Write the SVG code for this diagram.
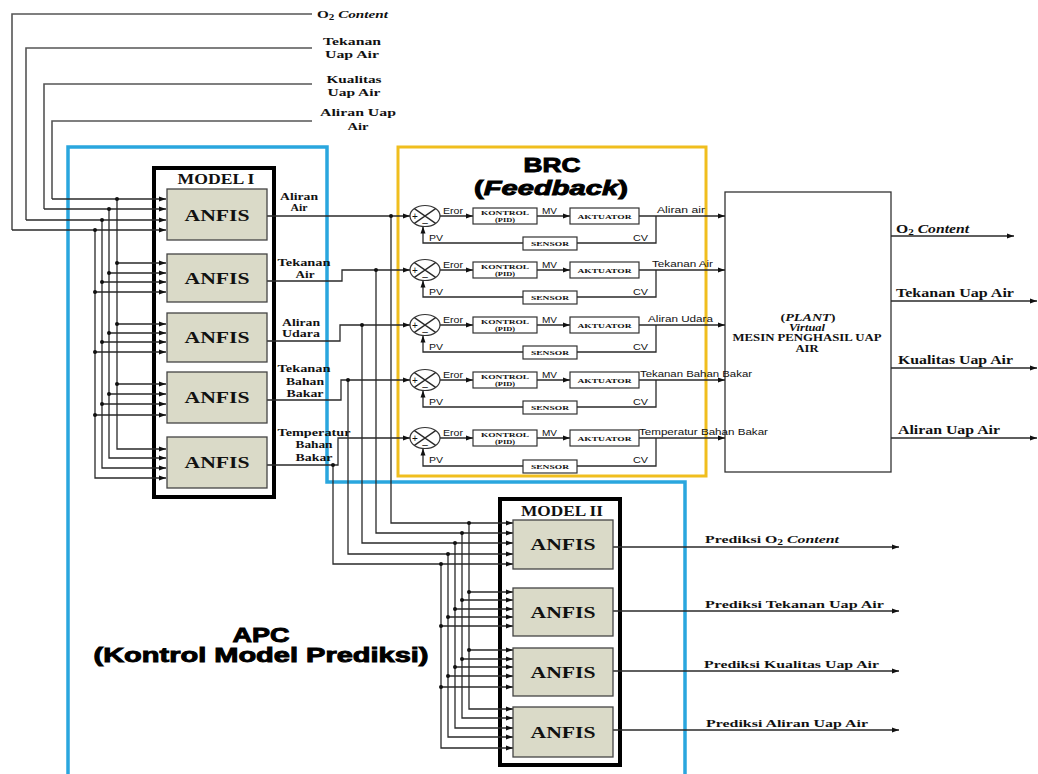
<svg xmlns="http://www.w3.org/2000/svg" width="1038" height="774" viewBox="0 0 1038 774">
<style>
.w{fill:none;stroke:#2a2a2a;stroke-width:1.3}
.wa{fill:none;stroke:#2a2a2a;stroke-width:1.3;marker-end:url(#ah)}
.g{fill:none;stroke:#555;stroke-width:1.6}
.anf{fill:#dadac8;stroke:#444;stroke-width:1.3}
.bx{fill:#fff;stroke:#333;stroke-width:1.2}
.frame{fill:#fff;stroke:#000;stroke-width:4}
.sb{font-family:"Liberation Serif",serif;font-weight:bold;fill:#111}
.ss{font-family:"Liberation Sans",sans-serif;fill:#111}
.big{font-family:"Liberation Sans",sans-serif;font-weight:bold;fill:#000;stroke:#000;stroke-width:0.9;font-size:20px}
.an{font-size:17px}
.lb{font-size:11px}
.sm{font-size:9.5px}
.tn{font-size:6.5px}
.dot{fill:#111}
</style>
<defs>
<marker id="ah" markerWidth="8" markerHeight="6" refX="7" refY="3" orient="auto" markerUnits="userSpaceOnUse"><path d="M0,0.5 L7,3 L0,5.5 z" fill="#111"/></marker>
</defs>
<rect width="1038" height="774" fill="#fff"/>

<g id="apc">
<path d="M68,774 V147 H327 V482 H685 V774" fill="none" stroke="#2aa6de" stroke-width="3.5"/>
<text class="big" x="261" y="642" text-anchor="middle" textLength="57" lengthAdjust="spacingAndGlyphs">APC</text>
<text class="big" x="261" y="662" text-anchor="middle" textLength="335" lengthAdjust="spacingAndGlyphs">(Kontrol Model Prediksi)</text>
</g>
<g id="brc">
<rect x="398" y="147" width="308" height="329" fill="none" stroke="#f0be1e" stroke-width="3"/>
<text class="big" x="552" y="172" text-anchor="middle" textLength="57" lengthAdjust="spacingAndGlyphs">BRC</text>
<text class="big" x="551" y="195" text-anchor="middle" textLength="154" lengthAdjust="spacingAndGlyphs">(<tspan font-style="italic">Feedback</tspan>)</text>
</g>

<g id="model1-frame"><rect class="frame" x="154" y="168" width="120" height="329"/>
<text class="sb" x="216" y="184" font-size="14" text-anchor="middle" textLength="77" lengthAdjust="spacingAndGlyphs">MODEL I</text></g>
<g id="model2-frame"><rect class="frame" x="500" y="499" width="120" height="266"/>
<text class="sb" x="562" y="516" font-size="14" text-anchor="middle" textLength="82" lengthAdjust="spacingAndGlyphs">MODEL II</text></g>

<g id="plant">
<rect x="725" y="192" width="166" height="280" fill="#fff" stroke="#333" stroke-width="1.3"/>
<text class="sb" font-size="10" x="808" y="321" text-anchor="middle" textLength="55" lengthAdjust="spacingAndGlyphs">(<tspan font-style="italic">PLANT</tspan>)</text>
<text class="sb" font-size="10" x="807" y="331" text-anchor="middle" font-style="italic" textLength="36" lengthAdjust="spacingAndGlyphs">Virtual</text>
<text class="sb" font-size="10" x="807" y="341" text-anchor="middle" textLength="149" lengthAdjust="spacingAndGlyphs">MESIN PENGHASIL UAP</text>
<text class="sb" font-size="10" x="807" y="352" text-anchor="middle" textLength="23" lengthAdjust="spacingAndGlyphs">AIR</text>
</g>

<g id="connectors">
<path class="g" d="M312,14 H12 V230"/>
<path class="wa" d="M12,230 H166"/>
<path class="g" d="M312,48 H26 V220"/>
<path class="wa" d="M26,220 H166"/>
<path class="g" d="M312,84 H44 V209"/>
<path class="wa" d="M44,209 H166"/>
<path class="g" d="M312,121 H52 V199"/>
<path class="wa" d="M52,199 H166"/>
<path class="wa" d="M117,199 V449 H166"/>
<path class="wa" d="M109,209 V458 H166"/>
<path class="wa" d="M102,220 V468 H166"/>
<path class="wa" d="M95,230 V478 H166"/>
<path class="wa" d="M117,263 H166"/><path class="wa" d="M109,273 H166"/><path class="wa" d="M102,282 H166"/><path class="wa" d="M95,292 H166"/>
<path class="wa" d="M117,324 H166"/><path class="wa" d="M109,333 H166"/><path class="wa" d="M102,342 H166"/><path class="wa" d="M95,352 H166"/>
<path class="wa" d="M117,384 H166"/><path class="wa" d="M109,394 H166"/><path class="wa" d="M102,404 H166"/><path class="wa" d="M95,415 H166"/>
<g class="dot">
<circle cx="117" cy="199" r="2"/><circle cx="109" cy="209" r="2"/><circle cx="102" cy="220" r="2"/><circle cx="95" cy="230" r="2"/>
<circle cx="117" cy="263" r="2"/><circle cx="109" cy="273" r="2"/><circle cx="102" cy="282" r="2"/><circle cx="95" cy="292" r="2"/>
<circle cx="117" cy="324" r="2"/><circle cx="109" cy="333" r="2"/><circle cx="102" cy="342" r="2"/><circle cx="95" cy="352" r="2"/>
<circle cx="117" cy="384" r="2"/><circle cx="109" cy="394" r="2"/><circle cx="102" cy="404" r="2"/><circle cx="95" cy="415" r="2"/>
</g>
<path class="wa" d="M267,216 H410"/>
<path class="wa" d="M267,281 H342 V270 H410"/>
<path class="wa" d="M267,341 H340 V325 H410"/>
<path class="wa" d="M267,400 H341 V380 H410"/>
<path class="wa" d="M267,465 H338 V438 H410"/>
<path class="wa" d="M391,216 V523 H513"/>
<path class="wa" d="M376,270 V533 H513"/>
<path class="wa" d="M362,325 V543 H513"/>
<path class="wa" d="M348,380 V554 H513"/>
<path class="wa" d="M333,465 V564 H513"/>
<g class="dot">
<circle cx="391" cy="216" r="2"/><circle cx="376" cy="270" r="2"/><circle cx="362" cy="325" r="2"/><circle cx="348" cy="380" r="2"/><circle cx="333" cy="465" r="2"/>
</g>
<path class="wa" d="M469,523 V709 H513"/>
<path class="wa" d="M462,533 V718 H513"/>
<path class="wa" d="M455,543 V728 H513"/>
<path class="wa" d="M448,554 V737 H513"/>
<path class="wa" d="M441,564 V748 H513"/>
<path class="wa" d="M469,592 H513"/><path class="wa" d="M462,600 H513"/><path class="wa" d="M455,609 H513"/><path class="wa" d="M448,617 H513"/><path class="wa" d="M441,626 H513"/>
<path class="wa" d="M469,650 H513"/><path class="wa" d="M462,659 H513"/><path class="wa" d="M455,667 H513"/><path class="wa" d="M448,676 H513"/><path class="wa" d="M441,687 H513"/>
<g class="dot">
<circle cx="469" cy="523" r="2"/><circle cx="462" cy="533" r="2"/><circle cx="455" cy="543" r="2"/><circle cx="448" cy="554" r="2"/><circle cx="441" cy="564" r="2"/>
<circle cx="469" cy="592" r="2"/><circle cx="462" cy="600" r="2"/><circle cx="455" cy="609" r="2"/><circle cx="448" cy="617" r="2"/><circle cx="441" cy="626" r="2"/>
<circle cx="469" cy="650" r="2"/><circle cx="462" cy="659" r="2"/><circle cx="455" cy="667" r="2"/><circle cx="448" cy="676" r="2"/><circle cx="441" cy="687" r="2"/>
</g>
<path class="wa" d="M613,547 H899"/>
<path class="wa" d="M613,611 H899"/>
<path class="wa" d="M613,671 H899"/>
<path class="wa" d="M613,730 H899"/>
<path class="wa" d="M891,236 H1014"/>
<path class="wa" d="M891,301 H1037"/>
<path class="wa" d="M891,368 H1037"/>
<path class="wa" d="M891,438 H1037"/>
<path class="wa" d="M440,216 H473"/><path class="wa" d="M537,216 H570"/><path class="wa" d="M639,216 H725"/><path class="w" d="M656,216 V243 H577"/><path class="wa" d="M523,243 H423 V226.5"/>
<path class="wa" d="M440,270 H473"/><path class="wa" d="M537,270 H570"/><path class="wa" d="M639,270 H725"/><path class="w" d="M656,270 V297 H577"/><path class="wa" d="M523,297 H423 V280.5"/>
<path class="wa" d="M440,325 H473"/><path class="wa" d="M537,325 H570"/><path class="wa" d="M639,325 H725"/><path class="w" d="M656,325 V352 H577"/><path class="wa" d="M523,352 H423 V335.5"/>
<path class="wa" d="M440,380 H473"/><path class="wa" d="M537,380 H570"/><path class="wa" d="M639,380 H725"/><path class="w" d="M656,380 V407 H577"/><path class="wa" d="M523,407 H423 V390.5"/>
<path class="wa" d="M440,438 H473"/><path class="wa" d="M537,438 H570"/><path class="wa" d="M639,438 H725"/><path class="w" d="M656,438 V466 H577"/><path class="wa" d="M523,466 H423 V448.5"/>
</g>

<g id="top-labels">
<text class="sb lb" x="317" y="18" textLength="71" lengthAdjust="spacingAndGlyphs">O<tspan font-size="8" dy="2">2</tspan><tspan dy="-2" font-style="italic"> Content</tspan></text>
<text class="sb lb" x="352" y="45" text-anchor="middle" textLength="58" lengthAdjust="spacingAndGlyphs">Tekanan</text>
<text class="sb lb" x="352" y="58" text-anchor="middle" textLength="54" lengthAdjust="spacingAndGlyphs">Uap Air</text>
<text class="sb lb" x="354" y="83" text-anchor="middle" textLength="55" lengthAdjust="spacingAndGlyphs">Kualitas</text>
<text class="sb lb" x="354" y="96" text-anchor="middle" textLength="53" lengthAdjust="spacingAndGlyphs">Uap Air</text>
<text class="sb lb" x="358" y="116" text-anchor="middle" textLength="76" lengthAdjust="spacingAndGlyphs">Aliran Uap</text>
<text class="sb lb" x="358" y="130" text-anchor="middle" textLength="21" lengthAdjust="spacingAndGlyphs">Air</text>
</g>

<g id="model1">
<g id="m1-anfis1"><rect class="anf" x="167" y="189" width="100" height="51"/><text class="sb an" x="217" y="221" text-anchor="middle" textLength="65" lengthAdjust="spacingAndGlyphs">ANFIS</text></g>
<g id="m1-anfis2"><rect class="anf" x="167" y="254" width="100" height="48"/><text class="sb an" x="217" y="284" text-anchor="middle" textLength="65" lengthAdjust="spacingAndGlyphs">ANFIS</text></g>
<g id="m1-anfis3"><rect class="anf" x="167" y="313" width="100" height="49"/><text class="sb an" x="217" y="343" text-anchor="middle" textLength="65" lengthAdjust="spacingAndGlyphs">ANFIS</text></g>
<g id="m1-anfis4"><rect class="anf" x="167" y="372" width="100" height="51"/><text class="sb an" x="217" y="403" text-anchor="middle" textLength="65" lengthAdjust="spacingAndGlyphs">ANFIS</text></g>
<g id="m1-anfis5"><rect class="anf" x="167" y="437" width="100" height="51"/><text class="sb an" x="217" y="468" text-anchor="middle" textLength="65" lengthAdjust="spacingAndGlyphs">ANFIS</text></g>
</g>
<g id="m1-labels">
<text class="sb lb" x="299" y="200" text-anchor="middle" textLength="38" lengthAdjust="spacingAndGlyphs">Aliran</text>
<text class="sb lb" x="299" y="211" text-anchor="middle" textLength="17" lengthAdjust="spacingAndGlyphs">Air</text>
<text class="sb lb" x="304" y="266" text-anchor="middle" textLength="53" lengthAdjust="spacingAndGlyphs">Tekanan</text>
<text class="sb lb" x="305" y="278" text-anchor="middle" textLength="19" lengthAdjust="spacingAndGlyphs">Air</text>
<text class="sb lb" x="301" y="326" text-anchor="middle" textLength="38" lengthAdjust="spacingAndGlyphs">Aliran</text>
<text class="sb lb" x="301" y="337" text-anchor="middle" textLength="38" lengthAdjust="spacingAndGlyphs">Udara</text>
<text class="sb lb" x="304" y="372" text-anchor="middle" textLength="53" lengthAdjust="spacingAndGlyphs">Tekanan</text>
<text class="sb lb" x="305" y="385" text-anchor="middle" textLength="38" lengthAdjust="spacingAndGlyphs">Bahan</text>
<text class="sb lb" x="305" y="397" text-anchor="middle" textLength="37" lengthAdjust="spacingAndGlyphs">Bakar</text>
<text class="sb lb" x="314" y="436" text-anchor="middle" textLength="73" lengthAdjust="spacingAndGlyphs">Temperatur</text>
<text class="sb lb" x="314" y="448" text-anchor="middle" textLength="37" lengthAdjust="spacingAndGlyphs">Bahan</text>
<text class="sb lb" x="314" y="461" text-anchor="middle" textLength="37" lengthAdjust="spacingAndGlyphs">Bakar</text>
</g>

<g id="brc-loop1">
<ellipse class="bx" cx="425" cy="216" rx="15" ry="10.5"/><path class="w" d="M414.4,208.6 L435.6,223.4 M414.4,223.4 L435.6,208.6"/>
<text class="ss" x="415" y="219.5" font-size="10" text-anchor="middle">+</text><text class="ss" x="425" y="226" font-size="10" text-anchor="middle">–</text>
<rect class="bx" x="473" y="208" width="64" height="16"/><text class="sb tn" x="505" y="214.5" text-anchor="middle" textLength="48" lengthAdjust="spacingAndGlyphs">KONTROL</text><text class="sb tn" x="505" y="222" text-anchor="middle" textLength="20" lengthAdjust="spacingAndGlyphs">(PID)</text>
<rect class="bx" x="570" y="208" width="69" height="16"/><text class="sb" font-size="7" x="604.5" y="218.5" text-anchor="middle" textLength="54" lengthAdjust="spacingAndGlyphs">AKTUATOR</text>
<rect class="bx" x="523" y="237" width="54" height="13"/><text class="sb tn" x="550" y="246" text-anchor="middle" textLength="38" lengthAdjust="spacingAndGlyphs">SENSOR</text>
<text class="ss sm" x="443" y="214" textLength="20" lengthAdjust="spacingAndGlyphs">Eror</text><text class="ss sm" x="542" y="214" textLength="15" lengthAdjust="spacingAndGlyphs">MV</text>
<text class="ss sm" x="429" y="240.5" textLength="14" lengthAdjust="spacingAndGlyphs">PV</text><text class="ss sm" x="633" y="240.5" textLength="15" lengthAdjust="spacingAndGlyphs">CV</text>
<text class="ss sm" x="657" y="213" textLength="48" lengthAdjust="spacingAndGlyphs">Aliran air</text>
</g>
<g id="brc-loop2">
<ellipse class="bx" cx="425" cy="270" rx="15" ry="10.5"/><path class="w" d="M414.4,262.6 L435.6,277.4 M414.4,277.4 L435.6,262.6"/>
<text class="ss" x="415" y="273.5" font-size="10" text-anchor="middle">+</text><text class="ss" x="425" y="280" font-size="10" text-anchor="middle">–</text>
<rect class="bx" x="473" y="262" width="64" height="16"/><text class="sb tn" x="505" y="268.5" text-anchor="middle" textLength="48" lengthAdjust="spacingAndGlyphs">KONTROL</text><text class="sb tn" x="505" y="276" text-anchor="middle" textLength="20" lengthAdjust="spacingAndGlyphs">(PID)</text>
<rect class="bx" x="570" y="262" width="69" height="16"/><text class="sb" font-size="7" x="604.5" y="272.5" text-anchor="middle" textLength="54" lengthAdjust="spacingAndGlyphs">AKTUATOR</text>
<rect class="bx" x="523" y="291" width="54" height="13"/><text class="sb tn" x="550" y="300" text-anchor="middle" textLength="38" lengthAdjust="spacingAndGlyphs">SENSOR</text>
<text class="ss sm" x="443" y="268" textLength="20" lengthAdjust="spacingAndGlyphs">Eror</text><text class="ss sm" x="542" y="268" textLength="15" lengthAdjust="spacingAndGlyphs">MV</text>
<text class="ss sm" x="429" y="294.5" textLength="14" lengthAdjust="spacingAndGlyphs">PV</text><text class="ss sm" x="633" y="294.5" textLength="15" lengthAdjust="spacingAndGlyphs">CV</text>
<text class="ss sm" x="652" y="267" textLength="61" lengthAdjust="spacingAndGlyphs">Tekanan Air</text>
</g>
<g id="brc-loop3">
<ellipse class="bx" cx="425" cy="325" rx="15" ry="10.5"/><path class="w" d="M414.4,317.6 L435.6,332.4 M414.4,332.4 L435.6,317.6"/>
<text class="ss" x="415" y="328.5" font-size="10" text-anchor="middle">+</text><text class="ss" x="425" y="335" font-size="10" text-anchor="middle">–</text>
<rect class="bx" x="473" y="317" width="64" height="16"/><text class="sb tn" x="505" y="323.5" text-anchor="middle" textLength="48" lengthAdjust="spacingAndGlyphs">KONTROL</text><text class="sb tn" x="505" y="331" text-anchor="middle" textLength="20" lengthAdjust="spacingAndGlyphs">(PID)</text>
<rect class="bx" x="570" y="317" width="69" height="16"/><text class="sb" font-size="7" x="604.5" y="327.5" text-anchor="middle" textLength="54" lengthAdjust="spacingAndGlyphs">AKTUATOR</text>
<rect class="bx" x="523" y="346" width="54" height="13"/><text class="sb tn" x="550" y="355" text-anchor="middle" textLength="38" lengthAdjust="spacingAndGlyphs">SENSOR</text>
<text class="ss sm" x="443" y="323" textLength="20" lengthAdjust="spacingAndGlyphs">Eror</text><text class="ss sm" x="542" y="323" textLength="15" lengthAdjust="spacingAndGlyphs">MV</text>
<text class="ss sm" x="429" y="349.5" textLength="14" lengthAdjust="spacingAndGlyphs">PV</text><text class="ss sm" x="633" y="349.5" textLength="15" lengthAdjust="spacingAndGlyphs">CV</text>
<text class="ss sm" x="648" y="322" textLength="65" lengthAdjust="spacingAndGlyphs">Aliran Udara</text>
</g>
<g id="brc-loop4">
<ellipse class="bx" cx="425" cy="380" rx="15" ry="10.5"/><path class="w" d="M414.4,372.6 L435.6,387.4 M414.4,387.4 L435.6,372.6"/>
<text class="ss" x="415" y="383.5" font-size="10" text-anchor="middle">+</text><text class="ss" x="425" y="390" font-size="10" text-anchor="middle">–</text>
<rect class="bx" x="473" y="372" width="64" height="16"/><text class="sb tn" x="505" y="378.5" text-anchor="middle" textLength="48" lengthAdjust="spacingAndGlyphs">KONTROL</text><text class="sb tn" x="505" y="386" text-anchor="middle" textLength="20" lengthAdjust="spacingAndGlyphs">(PID)</text>
<rect class="bx" x="570" y="372" width="69" height="16"/><text class="sb" font-size="7" x="604.5" y="382.5" text-anchor="middle" textLength="54" lengthAdjust="spacingAndGlyphs">AKTUATOR</text>
<rect class="bx" x="523" y="401" width="54" height="13"/><text class="sb tn" x="550" y="410" text-anchor="middle" textLength="38" lengthAdjust="spacingAndGlyphs">SENSOR</text>
<text class="ss sm" x="443" y="378" textLength="20" lengthAdjust="spacingAndGlyphs">Eror</text><text class="ss sm" x="542" y="378" textLength="15" lengthAdjust="spacingAndGlyphs">MV</text>
<text class="ss sm" x="429" y="404.5" textLength="14" lengthAdjust="spacingAndGlyphs">PV</text><text class="ss sm" x="633" y="404.5" textLength="15" lengthAdjust="spacingAndGlyphs">CV</text>
<text class="ss sm" x="640" y="377" textLength="112" lengthAdjust="spacingAndGlyphs">Tekanan Bahan Bakar</text>
</g>
<g id="brc-loop5">
<ellipse class="bx" cx="425" cy="438" rx="15" ry="10.5"/><path class="w" d="M414.4,430.6 L435.6,445.4 M414.4,445.4 L435.6,430.6"/>
<text class="ss" x="415" y="441.5" font-size="10" text-anchor="middle">+</text><text class="ss" x="425" y="448" font-size="10" text-anchor="middle">–</text>
<rect class="bx" x="473" y="430" width="64" height="16"/><text class="sb tn" x="505" y="436.5" text-anchor="middle" textLength="48" lengthAdjust="spacingAndGlyphs">KONTROL</text><text class="sb tn" x="505" y="444" text-anchor="middle" textLength="20" lengthAdjust="spacingAndGlyphs">(PID)</text>
<rect class="bx" x="570" y="430" width="69" height="16"/><text class="sb" font-size="7" x="604.5" y="440.5" text-anchor="middle" textLength="54" lengthAdjust="spacingAndGlyphs">AKTUATOR</text>
<rect class="bx" x="523" y="460" width="54" height="13"/><text class="sb tn" x="550" y="469" text-anchor="middle" textLength="38" lengthAdjust="spacingAndGlyphs">SENSOR</text>
<text class="ss sm" x="443" y="436" textLength="20" lengthAdjust="spacingAndGlyphs">Eror</text><text class="ss sm" x="542" y="436" textLength="15" lengthAdjust="spacingAndGlyphs">MV</text>
<text class="ss sm" x="429" y="462.5" textLength="14" lengthAdjust="spacingAndGlyphs">PV</text><text class="ss sm" x="633" y="462.5" textLength="15" lengthAdjust="spacingAndGlyphs">CV</text>
<text class="ss sm" x="639" y="435" textLength="129" lengthAdjust="spacingAndGlyphs">Temperatur Bahan Bakar</text>
</g>

<g id="plant-labels">
<text class="sb" font-size="12" x="896" y="233" textLength="73" lengthAdjust="spacingAndGlyphs">O<tspan font-size="8.5" dy="2">2</tspan><tspan dy="-2" font-style="italic"> Content</tspan></text>
<text class="sb" font-size="12" x="896" y="297" textLength="118" lengthAdjust="spacingAndGlyphs">Tekanan Uap Air</text>
<text class="sb" font-size="12" x="898" y="364" textLength="115" lengthAdjust="spacingAndGlyphs">Kualitas Uap Air</text>
<text class="sb" font-size="12" x="898" y="434" textLength="102" lengthAdjust="spacingAndGlyphs">Aliran Uap Air</text>
</g>

<g id="model2">
<g id="m2-anfis1"><rect class="anf" x="513" y="520" width="100" height="49"/><text class="sb an" x="563" y="550" text-anchor="middle" textLength="65" lengthAdjust="spacingAndGlyphs">ANFIS</text></g>
<g id="m2-anfis2"><rect class="anf" x="513" y="588" width="100" height="48"/><text class="sb an" x="563" y="618" text-anchor="middle" textLength="65" lengthAdjust="spacingAndGlyphs">ANFIS</text></g>
<g id="m2-anfis3"><rect class="anf" x="513" y="648" width="100" height="48"/><text class="sb an" x="563" y="678" text-anchor="middle" textLength="65" lengthAdjust="spacingAndGlyphs">ANFIS</text></g>
<g id="m2-anfis4"><rect class="anf" x="513" y="707" width="100" height="50"/><text class="sb an" x="563" y="738" text-anchor="middle" textLength="65" lengthAdjust="spacingAndGlyphs">ANFIS</text></g>
</g>
<g id="m2-labels">
<text class="sb lb" x="705" y="543" textLength="134" lengthAdjust="spacingAndGlyphs">Prediksi O<tspan font-size="8" dy="2">2</tspan><tspan dy="-2" font-style="italic"> Content</tspan></text>
<text class="sb lb" x="705" y="608" textLength="179" lengthAdjust="spacingAndGlyphs">Prediksi Tekanan Uap Air</text>
<text class="sb lb" x="704" y="668" textLength="175" lengthAdjust="spacingAndGlyphs">Prediksi Kualitas Uap Air</text>
<text class="sb lb" x="706" y="727" textLength="162" lengthAdjust="spacingAndGlyphs">Prediksi Aliran Uap Air</text>
</g>
</svg>
